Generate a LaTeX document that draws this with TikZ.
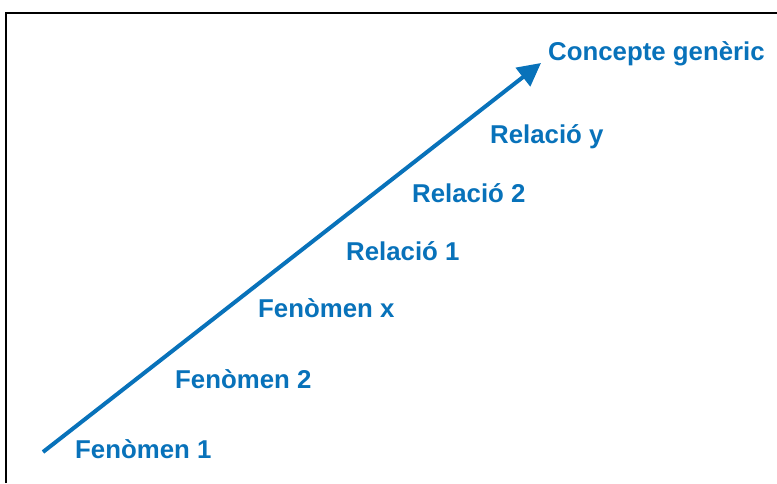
\documentclass[tikz,border=0pt]{standalone}
\usepackage{fontspec}
\setmainfont{Liberation Sans}
\usetikzlibrary{arrows.meta}
\definecolor{lblue}{RGB}{8,114,186}
\tikzset{
  lbl/.style={anchor=west, inner sep=0pt, text=lblue, font=\bfseries\fontsize{25.8}{28}\selectfont},
  frameline/.style={line width=2pt, black},
  mainarrow/.style={line width=4pt, lblue, -{Triangle[length=23pt,width=23pt]}}
}
\begin{document}
\begin{tikzpicture}[x=1pt,y=-1pt]
\useasboundingbox (0,0) rectangle (777,483);
\coordinate (tl) at (6,13);
\coordinate (tr) at (777,13);
\coordinate (bl) at (6,483);
\draw[frameline] (bl) -- (tl) -- (tr);
\coordinate (s) at (43,452);
\coordinate (e) at (541,63);
\draw[mainarrow] (s) -- (e);
\node[lbl] (cg) at (548,54) {Concepte genèric};
\node[lbl] (ry) at (490,137) {Relació y};
\node[lbl] (r2) at (412,193) {Relació 2};
\node[lbl] (r1) at (346,251) {Relació 1};
\node[lbl] (fx) at (258,308) {Fenòmen x};
\node[lbl] (f2) at (175,379) {Fenòmen 2};
\node[lbl] (f1) at (75,449) {Fenòmen 1};
\end{tikzpicture}
\end{document}
